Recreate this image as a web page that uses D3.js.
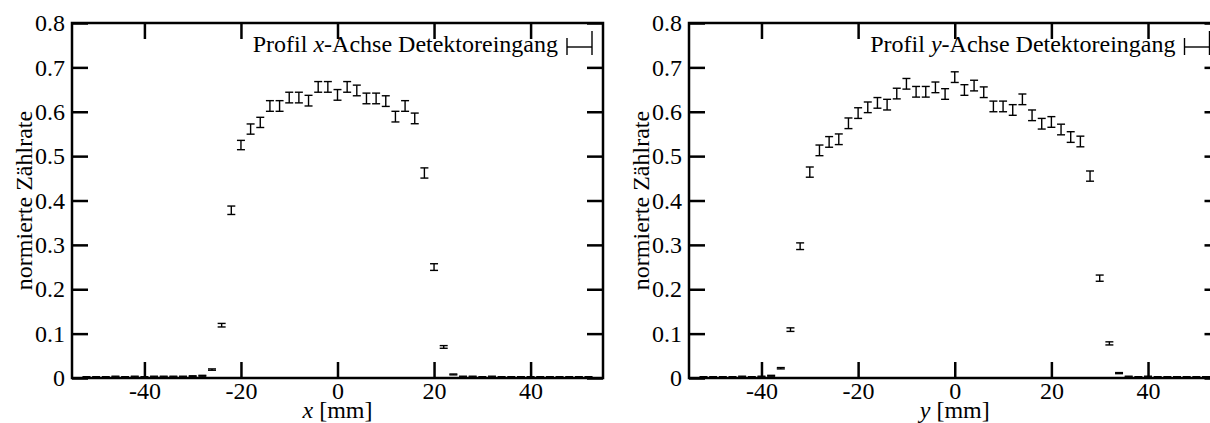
<!DOCTYPE html>
<html>
<head>
<meta charset="utf-8">
<script src="https://cdn.jsdelivr.net/npm/d3@7"></script>
<style>
  body { margin: 0; background: #fff; overflow: hidden; }
  svg { display: block; }
  svg text { font-family: "Liberation Serif", "Times New Roman", Times, serif; fill: #000; }
</style>
</head>
<body>
<svg id="chart" width="1210" height="423"></svg>
<script>
// positions in mm (same grid for both profiles)
const positions = [-52, -50, -48, -46, -44, -42, -40, -38, -36, -34, -32, -30, -28, -26, -24, -22, -20, -18, -16, -14, -12, -10, -8, -6, -4, -2,
  0, 2, 4, 6, 8, 10, 12, 14, 16, 18, 20, 22, 24, 26, 28, 30, 32, 34, 36, 38, 40, 42, 44, 46, 48, 50, 52];

// x-profile (left)
const xProfile = [0.002, 0.002, 0.002, 0.003, 0.002, 0.003, 0.002, 0.003, 0.003, 0.003, 0.003, 0.004, 0.005, 0.019, 0.119, 0.378, 0.525, 0.561, 0.576, 0.613, 0.613, 0.632, 0.632, 0.625, 0.656, 0.656,
  0.638, 0.656, 0.648, 0.630, 0.630, 0.624, 0.589, 0.613, 0.585, 0.462, 0.250, 0.070, 0.008, 0.003, 0.003, 0.002, 0.003, 0.002, 0.002, 0.002, 0.002, 0.002, 0.002, 0.002, 0.002, 0.002, 0.002];
const xErrors = [0.001, 0.001, 0.001, 0.001, 0.001, 0.001, 0.001, 0.001, 0.001, 0.001, 0.001, 0.001, 0.001, 0.0015, 0.004, 0.0095, 0.0105, 0.0115, 0.0115, 0.012, 0.012, 0.012, 0.012, 0.012, 0.012, 0.012,
  0.012, 0.012, 0.012, 0.012, 0.012, 0.012, 0.012, 0.012, 0.012, 0.0115, 0.0075, 0.003, 0.001, 0.001, 0.001, 0.001, 0.001, 0.001, 0.001, 0.001, 0.001, 0.001, 0.001, 0.001, 0.001, 0.001, 0.001];

// y-profile (right)
const yProfile = [0.002, 0.002, 0.002, 0.002, 0.003, 0.002, 0.003, 0.005, 0.022, 0.109, 0.297, 0.464, 0.513, 0.532, 0.538, 0.574, 0.597, 0.610, 0.620, 0.616, 0.641, 0.663, 0.645, 0.645, 0.655, 0.640,
  0.678, 0.649, 0.659, 0.644, 0.612, 0.612, 0.604, 0.628, 0.592, 0.573, 0.577, 0.560, 0.543, 0.533, 0.455, 0.225, 0.078, 0.011, 0.003, 0.002, 0.003, 0.002, 0.002, 0.002, 0.002, 0.002, 0.002];
const yErrors = [0.001, 0.001, 0.001, 0.001, 0.001, 0.001, 0.001, 0.001, 0.0015, 0.004, 0.0075, 0.0115, 0.012, 0.012, 0.012, 0.012, 0.012, 0.012, 0.012, 0.012, 0.012, 0.012, 0.012, 0.012, 0.012, 0.012,
  0.012, 0.012, 0.012, 0.012, 0.012, 0.012, 0.012, 0.012, 0.012, 0.012, 0.012, 0.012, 0.012, 0.012, 0.0115, 0.007, 0.0035, 0.0012, 0.001, 0.001, 0.001, 0.001, 0.001, 0.001, 0.001, 0.001, 0.001];

const xTicks = [-40, -20, 0, 20, 40];
const yTicks = [0, 0.1, 0.2, 0.3, 0.4, 0.5, 0.6, 0.7, 0.8];
const yLabel = "normierte Zählrate";

const svg = d3.select("#chart");
const plotTop = 23, plotBottom = 378, tick = 16, fontSize = 24;

function drawPanel(left, right, axisName, values, errors) {
  const x = d3.scaleLinear().domain([-55, 55]).range([left, right]);
  const y = d3.scaleLinear().domain([0, 0.8]).range([plotBottom, plotTop]);
  const g = svg.append("g");

  // bottom axis with labels
  g.append("g")
    .attr("transform", "translate(0," + plotBottom + ")")
    .call(d3.axisBottom(x).tickValues(xTicks).tickSizeInner(-tick).tickSizeOuter(0).tickPadding(4)
      .tickFormat(d => d < 0 ? "-" + Math.abs(d) : d));
  // top axis, ticks only
  g.append("g")
    .attr("transform", "translate(0," + plotTop + ")")
    .call(d3.axisTop(x).tickValues(xTicks).tickSizeInner(-tick).tickSizeOuter(0).tickFormat(""));
  // left axis with labels
  g.append("g")
    .attr("transform", "translate(" + left + ",0)")
    .call(d3.axisLeft(y).tickValues(yTicks).tickSizeInner(-tick).tickSizeOuter(0).tickPadding(7)
      .tickFormat(d => d === 0 ? "0" : d3.format(".1f")(d)));
  // right axis, ticks only
  g.append("g")
    .attr("transform", "translate(" + right + ",0)")
    .call(d3.axisRight(y).tickValues(yTicks).tickSizeInner(-tick).tickSizeOuter(0).tickFormat(""));

  g.selectAll(".domain").remove();
  g.selectAll(".tick line").attr("stroke", "#000").attr("stroke-width", 2.5);
  g.selectAll(".tick text").attr("font-size", fontSize);

  // frame
  g.append("rect")
    .attr("x", left).attr("y", plotTop)
    .attr("width", right - left).attr("height", plotBottom - plotTop)
    .attr("fill", "none").attr("stroke", "#000").attr("stroke-width", 2.5);

  // error bars
  const cap = 4;
  const pts = positions.map((p, i) => ({ p: p, v: values[i], e: errors[i] }));
  const bars = g.append("g").attr("stroke", "#000").attr("stroke-width", 1.4);
  bars.selectAll("line.v").data(pts).enter().append("line")
    .attr("x1", d => x(d.p)).attr("x2", d => x(d.p))
    .attr("y1", d => y(d.v - d.e)).attr("y2", d => y(d.v + d.e));
  bars.selectAll("line.t").data(pts).enter().append("line")
    .attr("x1", d => x(d.p) - cap).attr("x2", d => x(d.p) + cap)
    .attr("y1", d => y(d.v + d.e)).attr("y2", d => y(d.v + d.e));
  bars.selectAll("line.b").data(pts).enter().append("line")
    .attr("x1", d => x(d.p) - cap).attr("x2", d => x(d.p) + cap)
    .attr("y1", d => y(d.v - d.e)).attr("y2", d => y(d.v - d.e));

  // legend
  const leg = g.append("text")
    .attr("x", right - 45).attr("y", 52)
    .attr("text-anchor", "end").attr("font-size", fontSize);
  leg.append("tspan").text("Profil ");
  leg.append("tspan").attr("font-style", "italic").text(axisName);
  leg.append("tspan").text("-Achse Detektoreingang");

  const l0 = right - 36, l1 = right - 11;
  const lg = g.append("g").attr("stroke", "#000").attr("stroke-width", 1.4);
  lg.append("line").attr("x1", l0).attr("x2", l1).attr("y1", 47).attr("y2", 47);
  lg.append("line").attr("x1", l0).attr("x2", l0).attr("y1", 38).attr("y2", 55);
  lg.append("line").attr("x1", l1).attr("x2", l1).attr("y1", 31).attr("y2", 55);

  // axis titles
  g.append("text")
    .attr("transform", "translate(" + (left - 40) + "," + ((plotTop + plotBottom) / 2) + ") rotate(-90)")
    .attr("text-anchor", "middle").attr("font-size", fontSize)
    .text(yLabel);

  const xl = g.append("text")
    .attr("x", x(0)).attr("y", 418)
    .attr("text-anchor", "middle").attr("font-size", fontSize);
  xl.append("tspan").attr("font-style", "italic").text(axisName);
  xl.append("tspan").text(" [mm]");
}

drawPanel(72, 603, "x", xProfile, xErrors);
drawPanel(689, 1220.5, "y", yProfile, yErrors);
</script>
</body>
</html>
